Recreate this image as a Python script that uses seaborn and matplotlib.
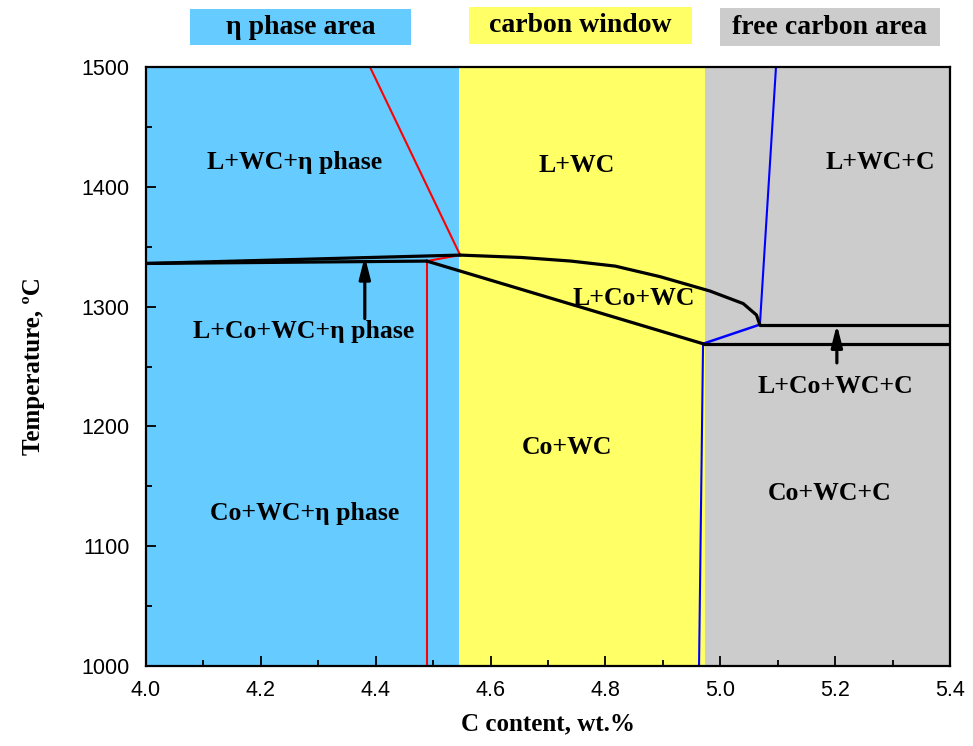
import matplotlib
matplotlib.use("Agg")
import matplotlib.pyplot as plt
import matplotlib.patches as mpatches
import seaborn as sns
import pandas as pd
from matplotlib.ticker import MultipleLocator, FormatStrFormatter

# ---- data ----
region_edges = [4.0, 4.545, 4.973, 5.4]
region_colors = ["#66CCFF", "#FFFF66", "#CCCCCC"]
region_names = ["η phase area", "carbon window", "free carbon area"]
# header boxes in figure pixels (left, right, top, bottom)
box_left_px = [190, 469, 720]
box_right_px = [411, 692, 940]
box_top_px = [9, 7, 8]
box_bottom_px = [45, 44, 46]

# black phase boundaries
liq_upper_x = [4.0, 4.547]
liq_upper_y = [1336.0, 1343.0]
liq_lower_x = [4.0, 4.489]
liq_lower_y = [1336.0, 1338.0]
curve_x = [4.547, 4.654, 4.740, 4.817, 4.895, 4.982, 5.040, 5.063, 5.069]
curve_y = [1343.0, 1341.0, 1338.0, 1333.8, 1325.0, 1313.0, 1302.5, 1293.0, 1284.6]
solidus_x = [4.489, 4.970]
solidus_y = [1338.0, 1269.0]
eut_upper_x = [5.069, 5.4]
eut_upper_y = [1285.0, 1285.0]
eut_lower_x = [4.970, 5.4]
eut_lower_y = [1269.0, 1269.0]

# red boundaries
red_diag_x = [4.39, 4.547]
red_diag_y = [1500.0, 1343.0]
red_vert_x = [4.489, 4.489]
red_vert_y = [1000.0, 1338.0]
red_link_x = [4.489, 4.547]
red_link_y = [1338.0, 1343.0]

# blue boundaries
blue_vert_x = [4.963, 4.970]
blue_vert_y = [1000.0, 1269.0]
blue_link_x = [4.970, 5.069]
blue_link_y = [1269.0, 1285.0]
blue_up_x = [5.069, 5.097]
blue_up_y = [1285.0, 1500.0]

# phase labels
labels = ["L+WC+η phase", "L+WC", "L+WC+C", "L+Co+WC", "L+Co+WC+η phase",
          "L+Co+WC+C", "Co+WC", "Co+WC+C", "Co+WC+η phase"]
labels_x = [4.258, 4.749, 5.278, 4.85, 4.275, 5.2, 4.733, 5.19, 4.277]
labels_y = [1420, 1418, 1420, 1307, 1279, 1233, 1182, 1144, 1127]

# arrows (tail -> head)
arrow_x = [4.381, 5.203]
arrow_tail_y = [1290, 1253]
arrow_head_y = [1342, 1285]

# ---- figure ----
sns.set_theme(style="ticks")
plt.rcParams["font.family"] = ["Liberation Sans", "DejaVu Sans"]
plt.rcParams["text.color"] = "black"
plt.rcParams["axes.labelcolor"] = "black"
plt.rcParams["xtick.color"] = "black"
plt.rcParams["ytick.color"] = "black"
W, H = 973, 746
fig = plt.figure(figsize=(W / 100, H / 100), dpi=100)
ax = fig.add_axes([146 / W, 1 - 666 / H, (950 - 146) / W, (666 - 67) / H])

for i in range(3):
    ax.axvspan(region_edges[i], region_edges[i + 1], color=region_colors[i], lw=0, zorder=0)

def line(xs, ys, color, lw):
    df = pd.DataFrame({"x": xs, "y": ys})
    sns.lineplot(data=df, x="x", y="y", sort=False, estimator=None, color=color,
                 lw=lw, ax=ax, zorder=3)

line(red_diag_x, red_diag_y, "#FF0000", 1.5)
line(red_vert_x, red_vert_y, "#FF0000", 1.5)
line(red_link_x, red_link_y, "#FF0000", 1.5)
line(blue_vert_x, blue_vert_y, "#0000FF", 1.5)
line(blue_link_x, blue_link_y, "#0000FF", 1.8)
line(blue_up_x, blue_up_y, "#0000FF", 1.5)
for xs, ys in [(liq_upper_x, liq_upper_y), (liq_lower_x, liq_lower_y), (curve_x, curve_y),
               (solidus_x, solidus_y), (eut_upper_x, eut_upper_y), (eut_lower_x, eut_lower_y)]:
    line(xs, ys, "#000000", 2.3)

serif = ["Liberation Serif", "DejaVu Serif"]
for t, x, y in zip(labels, labels_x, labels_y):
    ax.text(x, y, t, ha="center", va="center", fontsize=18.5, fontweight="bold",
            family=serif, zorder=4)

for x, y0, y1 in zip(arrow_x, arrow_tail_y, arrow_head_y):
    ax.annotate("", xy=(x, y1), xytext=(x, y0),
                arrowprops=dict(arrowstyle="-|>,head_length=1.1,head_width=0.28",
                                color="black", lw=2.3, shrinkA=0, shrinkB=0), zorder=5)

for name, l, r, t, b, c in zip(region_names, box_left_px, box_right_px, box_top_px,
                               box_bottom_px, region_colors):
    fig.patches.append(mpatches.Rectangle((l / W, 1 - b / H), (r - l) / W, (b - t) / H,
                                          transform=fig.transFigure, facecolor=c,
                                          edgecolor="none"))
    fig.text((l + r) / 2 / W, 1 - (t + b) / 2 / H, name, ha="center", va="center",
             fontsize=20, fontweight="bold", family=serif)

ax.set_xlim(4.0, 5.4)
ax.set_ylim(1000, 1500)
ax.xaxis.set_major_locator(MultipleLocator(0.2))
ax.xaxis.set_minor_locator(MultipleLocator(0.1))
ax.yaxis.set_major_locator(MultipleLocator(100))
ax.yaxis.set_minor_locator(MultipleLocator(50))
ax.xaxis.set_major_formatter(FormatStrFormatter("%.1f"))
ax.tick_params(axis="y", which="major", pad=12)
ax.tick_params(axis="x", which="major", pad=10)
ax.tick_params(which="major", direction="in", length=7, width=1.3, labelsize=15.5)
ax.tick_params(which="minor", direction="in", length=4, width=1.3)
for s in ax.spines.values():
    s.set_linewidth(1.6)
    s.set_color("black")
    s.set_zorder(6)

ax.set_xlabel("C content, wt.%", fontsize=18, fontweight="bold", family=serif, labelpad=8)
ax.set_ylabel("Temperature, ºC", fontsize=18, fontweight="bold", family=serif, labelpad=26)

fig.savefig("out.png", dpi=100)
